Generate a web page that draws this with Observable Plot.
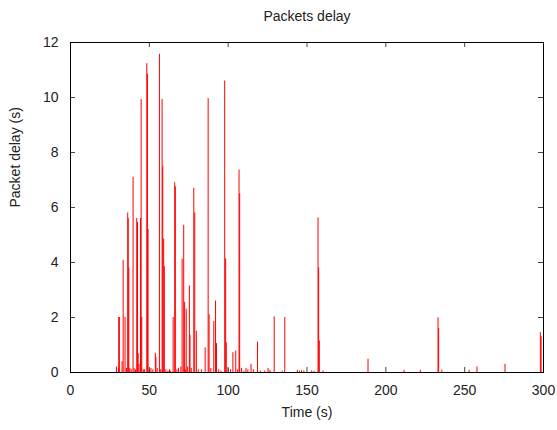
<!DOCTYPE html>
<html><head><meta charset="utf-8">
<script src="https://cdn.jsdelivr.net/npm/d3@7"></script>
<script src="https://cdn.jsdelivr.net/npm/@observablehq/plot@0.6"></script>
<style>body{margin:0;background:#fff;} svg{display:block}</style>
</head><body><div id="chart"></div>
<script>
const title = "Packets delay";
const xLabel = "Time (s)";
const yLabel = "Packet delay (s)";
const xTicks = [0, 50, 100, 150, 200, 250, 300];
const yTicks = [0, 2, 4, 6, 8, 10, 12];
const times = [
  29.2, 30.4, 30.6, 31.0, 32.7, 33.4, 34.6, 35.5, 36.3, 36.6, 37.0, 37.6, 38.5, 39.7, 40.3, 41.2,
  42.0, 42.5, 42.9, 43.5, 44.4, 44.8, 45.2, 46.2, 47.0, 48.4, 48.8, 49.2, 50.0, 51.0, 52.2, 53.8,
  54.2, 55.0, 56.4, 57.2, 58.1, 58.5, 59.1, 59.5, 60.5, 61.8, 62.8, 63.5, 65.1, 66.1, 66.5, 67.5,
  68.5, 70.0, 70.8, 71.8, 72.4, 72.8, 73.4, 74.3, 75.4, 75.8, 76.6, 78.2, 78.8, 79.8, 81.0, 83.0,
  85.4, 87.3, 87.9, 89.0, 90.9, 92.0, 92.6, 94.0, 95.5, 97.8, 98.4, 98.8, 100.0, 101.5, 103.0, 104.8,
  106.0, 106.9, 107.3, 108.5, 110.0, 111.3, 112.5, 114.5, 116.0, 118.6, 120.5, 123.0, 125.3, 126.5, 129.2, 134.3,
  135.9, 143.9, 145.3, 146.5, 148.0, 153.0, 154.5, 157.0, 157.4, 157.8, 160.2, 188.7, 211.6, 221.9, 233.1, 233.5,
  235.5, 252.8, 257.8, 275.6, 298.0, 298.5
];
const delays = [
  0.2, 0.15, 2.0, 2.0, 0.39, 4.08, 2.0, 0.15, 5.8, 5.6, 3.8, 0.15, 0.1, 7.1, 0.15, 0.1,
  5.6, 5.45, 0.69, 0.3, 5.6, 9.93, 2.0, 0.1, 0.1, 11.23, 10.85, 5.2, 0.1, 0.15, 0.1, 0.7,
  0.55, 0.15, 11.57, 0.1, 9.93, 7.5, 4.85, 3.85, 0.1, 0.05, 0.1, 0.05, 2.0, 6.9, 6.75, 0.1,
  0.15, 0.2, 4.12, 5.35, 2.55, 0.1, 2.3, 0.2, 3.15, 1.35, 0.15, 6.7, 5.8, 1.5, 0.1, 0.1,
  0.9, 9.96, 2.1, 0.15, 1.85, 2.6, 1.05, 0.1, 0.05, 10.6, 4.13, 1.08, 0.15, 0.1, 0.72, 0.78,
  0.1, 7.36, 6.5, 0.15, 0.05, 0.15, 0.1, 0.3, 0.1, 1.1, 0.05, 0.05, 0.15, 0.08, 2.02, 0.05,
  2.0, 0.08, 0.05, 0.06, 0.05, 0.06, 0.04, 5.62, 3.8, 1.15, 0.06, 0.48, 0.08, 0.08, 1.99, 1.6,
  0.08, 0.08, 0.2, 0.3, 1.45, 1.3
];
const data = times.map((t, i) => ({t, v: delays[i]}));

const W = 557, H = 430, mL = 70, mR = 14, mT = 42, mB = 58;
const plotW = W - mL - mR, plotH = H - mT - mB;
const tickLen = 5;
const font = "'Liberation Sans', Arial, sans-serif";

const chart = Plot.plot({
  width: W, height: H,
  marginLeft: mL, marginRight: mR, marginTop: mT, marginBottom: mB,
  style: {fontFamily: font, fontSize: "14px", color: "#222", background: "#fff"},
  x: {domain: [0, 300], ticks: xTicks},
  y: {domain: [0, 12], ticks: yTicks},
  marks: [
    Plot.ruleX(data, {x: "t", y1: 0, y2: "v", stroke: "#ff0000", strokeWidth: 1}),
    Plot.ruleX(xTicks, {x: d => d, insetTop: plotH - tickLen, stroke: "#444"}),
    Plot.ruleX(xTicks, {x: d => d, insetBottom: plotH - tickLen, stroke: "#444"}),
    Plot.ruleY(yTicks, {y: d => d, insetRight: plotW - tickLen, stroke: "#444"}),
    Plot.ruleY(yTicks, {y: d => d, insetLeft: plotW - tickLen, stroke: "#444"}),
    Plot.frame({stroke: "#000"}),
    Plot.axisX(xTicks, {tickSize: 0, tickPadding: 13, fontSize: 14, label: null}),
    Plot.axisY(yTicks, {tickSize: 0, tickPadding: 12, fontSize: 14, label: null}),
    Plot.text([title], {frameAnchor: "top", dy: -31, fontSize: 14}),
    Plot.text([xLabel], {frameAnchor: "bottom", dy: 44, fontSize: 14}),
    Plot.text([yLabel], {frameAnchor: "left", dx: -55, rotate: -90, fontSize: 14})
  ]
});
document.getElementById("chart").appendChild(chart);
</script>
</body></html>
